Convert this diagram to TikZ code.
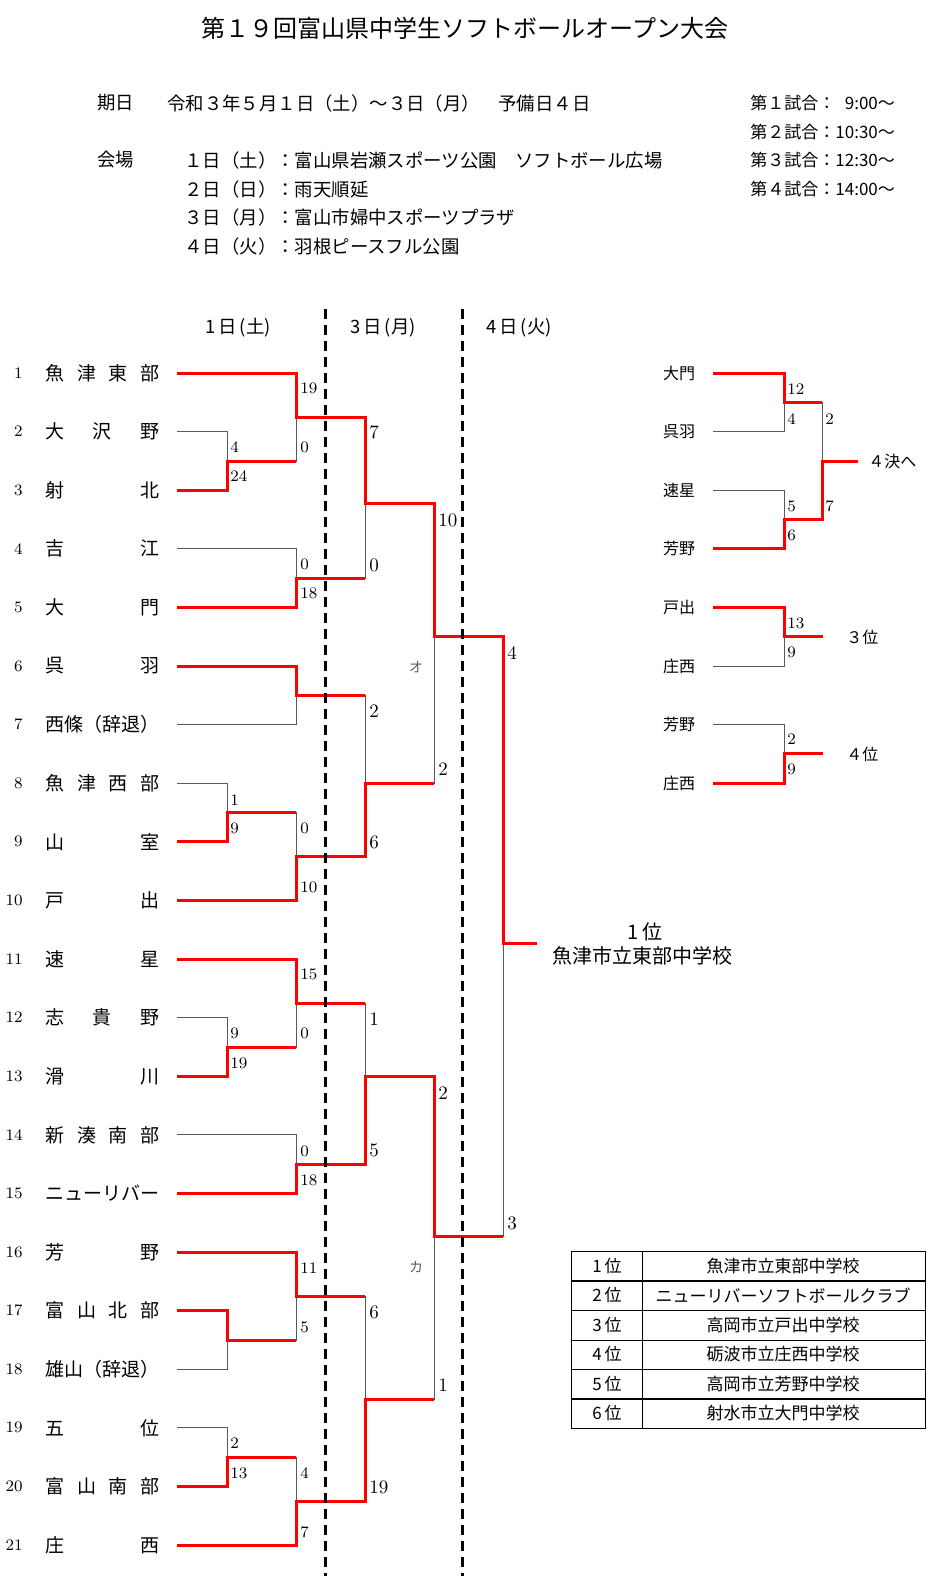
\documentclass[tikz,border=0pt]{standalone}
\usepackage{fontspec}
\newfontfamily\jp{Noto Sans CJK JP}
\begin{document}
\begin{tikzpicture}
  [x=0.5pt,y=-0.5pt,
   win/.style={draw=red,line width=1.5pt},
   lose/.style={draw=black!65,line width=0.5pt},
   daysep/.style={draw=black,line width=1.5pt,dash pattern=on 5pt off 3pt},
   title/.style={font=\jp\fontsize{12}{14}\selectfont,inner sep=0pt},
   info/.style={font=\jp\fontsize{9.2}{11}\selectfont,inner sep=0pt,anchor=west},
   timeinfo/.style={font=\jp\fontsize{8.5}{10}\selectfont,inner sep=0pt,anchor=west},
   team/.style={font=\jp\fontsize{9.5}{11}\selectfont,inner sep=0pt,anchor=west},
   idx/.style={font=\fontsize{8}{9}\selectfont,inner sep=0pt,anchor=east},
   rteam/.style={font=\jp\fontsize{8}{9}\selectfont,inner sep=0pt},
   score/.style={font=\fontsize{8}{9}\selectfont,inner sep=0pt,anchor=west},
   bigscore/.style={font=\fontsize{9.5}{11}\selectfont,inner sep=0pt,anchor=west},
   block/.style={font=\jp\fontsize{7}{8}\selectfont,text=black!65,inner sep=0pt},
   cell/.style={font=\jp\fontsize{8.5}{10}\selectfont,inner sep=0pt},
   tabline/.style={draw=black,line width=0.5pt}]
  \useasboundingbox (0,0) rectangle (930,1576);

  \node[title] (title) at (465,28) {第１９回富山県中学生ソフトボールオープン大会};
  \node[info] (kijitsu) at (97,103) {期日};
  \node[info] (nittei) at (167,103) {令和３年５月１日（土）～３日（月）　予備日４日};
  \node[info] (kaijo) at (97,160) {会場};
  \foreach \t/\y [count=\k] in {１日（土）：富山県岩瀬スポーツ公園　ソフトボール広場/160,
      ２日（日）：雨天順延/189, ３日（月）：富山市婦中スポーツプラザ/217,
      ４日（火）：羽根ピースフル公園/246}
    \node[info,anchor=west] (venue\k) at (184,\y) {\t};
  \foreach \t/\y [count=\k] in {第１試合：\hphantom{1}9:00～/103, 第２試合：10:30～/132,
      第３試合：12:30～/160, 第４試合：14:00～/189}
    \node[timeinfo] (time\k) at (750,\y) {\t};

  \node[info,anchor=center] (day1) at (238,328) {1\,日\,(土)};
  \node[info,anchor=center] (day3) at (383,328) {3\,日\,(月)};
  \node[info,anchor=center] (day4) at (519,328) {4\,日\,(火)};

  \foreach \i/\nm in {1/魚\hfill 津\hfill 東\hfill 部, 2/大\hfill 沢\hfill 野, 3/射\hfill 北,
      4/吉\hfill 江, 5/大\hfill 門, 6/呉\hfill 羽, 7/西\hfill 條\hfill （\hfill 辞\hfill 退\hfill ）,
      8/魚\hfill 津\hfill 西\hfill 部, 9/山\hfill 室, 10/戸\hfill 出, 11/速\hfill 星,
      12/志\hfill 貴\hfill 野, 13/滑\hfill 川, 14/新\hfill 湊\hfill 南\hfill 部,
      15/ニ\hfill ュ\hfill ー\hfill リ\hfill バ\hfill ー, 16/芳\hfill 野,
      17/富\hfill 山\hfill 北\hfill 部, 18/雄\hfill 山\hfill （\hfill 辞\hfill 退\hfill ）,
      19/五\hfill 位, 20/富\hfill 山\hfill 南\hfill 部, 21/庄\hfill 西} {
    \pgfmathsetmacro\yy{373+58.6*(\i-1)}
    \node[idx] (no\i) at (23,\yy) {\i};
    \node[team] (name\i) at (45,\yy) {\makebox[57pt][s]{\nm}};
    \coordinate (s\i) at (177,\yy);
  }

  \coordinate (p1) at (227,461);    \coordinate (p2) at (227,812.5);
  \coordinate (p3) at (227,1047);   \coordinate (p4) at (227,1340);
  \coordinate (p5) at (227,1457);
  \coordinate (r1) at (296,417);    \coordinate (r2) at (296,578);
  \coordinate (r3) at (296,695);    \coordinate (r4) at (296,856.5);
  \coordinate (r5) at (296,1003);   \coordinate (r6) at (296,1164);
  \coordinate (r7) at (296,1296);   \coordinate (r8) at (296,1501);
  \coordinate (q1) at (365,503);    \coordinate (q2) at (365,783);
  \coordinate (q3) at (365,1076);   \coordinate (q4) at (365,1399);
  \coordinate (sf1) at (434,636);   \coordinate (sf2) at (434,1236);
  \coordinate (fin) at (503,943);   \coordinate (champ) at (537,943);

  \foreach \j/\nm [count=\k] in {大門/373, 呉羽/431.6, 速星/490.2, 芳野/548.8,
      戸出/607.4, 庄西/666, 芳野/724.6, 庄西/783.2} {
    \node[rteam] (rname\k) at (679,\nm) {\j};
    \coordinate (u\k) at (713,\nm);
  }
  \coordinate (k1) at (784,402.3);  \coordinate (k2) at (784,519.5);
  \coordinate (k3) at (822,461);    \coordinate (go4) at (858,461);
  \coordinate (k4) at (784,636.7);  \coordinate (third) at (823,636.7);
  \coordinate (k5) at (784,753.9);  \coordinate (fourth) at (823,753.9);

  \foreach \p/\m in {s2/p1, s8/p2, s12/p3, s18/p4, s19/p5, p1/r1, s4/r2, s7/r3,
      p2/r4, p3/r5, s14/r6, p4/r7, p5/r8, r2/q1, r3/q2, r5/q3, r7/q4, q2/sf1,
      q4/sf2, sf2/fin, u2/k1, u3/k2, k1/k3, u6/k4, u7/k5}
    \draw[lose] (\p) -| (\m);
  \foreach \w/\m/\n in {s3/p1/r1, s9/p2/r4, s13/p3/r5, s17/p4/r7, s20/p5/r8,
      s1/r1/q1, s5/r2/q1, s6/r3/q2, s10/r4/q2, s11/r5/q3, s15/r6/q3, s16/r7/q4,
      s21/r8/q4, r1/q1/sf1, r4/q2/sf1, r6/q3/sf2, r8/q4/sf2, q1/sf1/fin,
      q3/sf2/fin, sf1/fin/champ, u1/k1/k3, u4/k2/k3, k2/k3/go4, u5/k4/third,
      u8/k5/fourth}
    \draw[win] (\w) -| (\m) -- (\m -| \n);

  \foreach \x/\y/\t [count=\k] in {230/447/4, 230/476/24, 230/800/1, 230/828/9,
      230/1033/9, 230/1063/19, 230/1443/2, 230/1473/13,
      300/388/19, 300/447/0, 300/564/0, 300/593/18, 300/828/0, 300/887/10,
      300/974/15, 300/1033/0, 300/1151/0, 300/1180/18, 300/1268/11, 300/1327/5,
      300/1473/4, 300/1532/7,
      787/389/12, 787/419/4, 787/506/5, 787/535/6, 787/623/13, 787/652/9,
      787/739/2, 787/769/9, 825/419/2, 825/506/7}
    \node[score] (pt\k) at (\x,\y) {\t};
  \foreach \x/\y/\t [count=\k] in {369/432/7, 369/565/0, 369/711/2, 369/842/6,
      369/1019/1, 369/1150/5, 369/1312/6, 369/1487/19, 438/520/10, 438/769/2,
      438/1093/2, 438/1385/1, 507/653/4, 507/1223/3}
    \node[bigscore] (bpt\k) at (\x,\y) {\t};

  \node[block] (blockO) at (416,667) {オ};
  \node[block] (blockK) at (416,1267) {カ};

  \node[rteam,anchor=west] (semi) at (868,461) {４決へ};
  \node[rteam,anchor=west] (rank3) at (846,637) {３位};
  \node[rteam,anchor=west] (rank4) at (846,754) {４位};

  \node[info,anchor=center,font=\jp\fontsize{10}{12}\selectfont] (first) at (645,932) {1\,位};
  \node[info,anchor=center,font=\jp\fontsize{10}{12}\selectfont] (winner) at (642,956) {魚津市立東部中学校};

  \draw[tabline] (571,1251) rectangle (925,1428);
  \draw[tabline] (642,1251) -- (642,1428);
  \foreach \y in {1310.5,1340,1369.5}
    \draw[tabline] (571,\y) -- (925,\y);
  \foreach \y in {1281,1399}
    \draw[tabline,line width=1pt] (571,\y) -- (925,\y);
  \foreach \r/\sch [count=\k] in {1/魚津市立東部中学校, 2/ニューリバーソフトボールクラブ,
      3/高岡市立戸出中学校, 4/砺波市立庄西中学校, 5/高岡市立芳野中学校, 6/射水市立大門中学校} {
    \pgfmathsetmacro\yy{1266+29.5*(\k-1)}
    \node[cell] (rank\k) at (607,\yy) {\r\,位};
    \node[cell] (school\k) at (783,\yy) {\sch};
  }

  \draw[daysep] (325,309) -- (325,1576);
  \draw[daysep] (462,309) -- (462,1576);
\end{tikzpicture}
\end{document}
